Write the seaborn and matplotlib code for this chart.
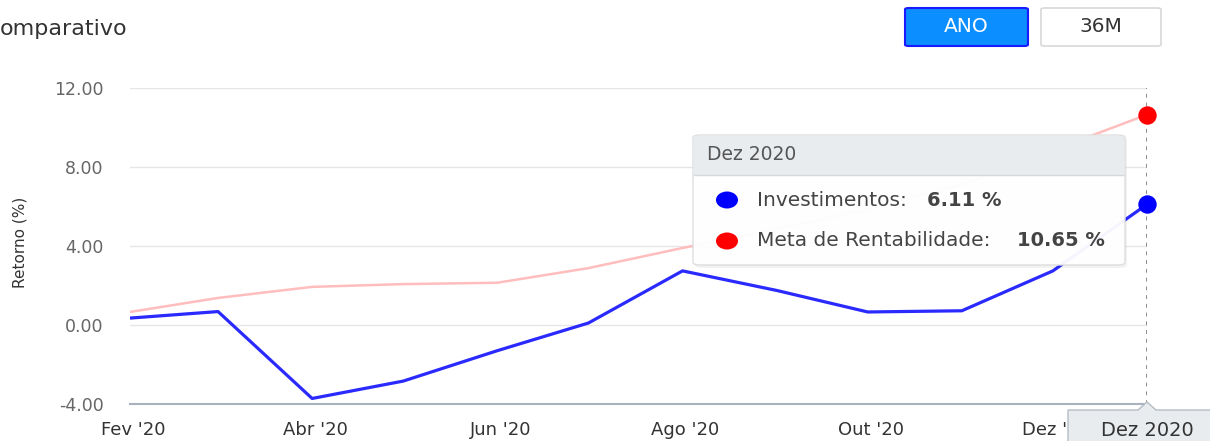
import numpy as np
import pandas as pd
import matplotlib
matplotlib.use("Agg")
import matplotlib.pyplot as plt
import seaborn as sns
from matplotlib.patches import FancyBboxPatch, Rectangle, Ellipse, Polygon

# DATA
meses = ["2020-01-31", "2020-02-29", "2020-03-31", "2020-04-30", "2020-05-31", "2020-06-30",
         "2020-07-31", "2020-08-31", "2020-09-30", "2020-10-31", "2020-11-30", "2020-12-31"]
investimentos = [0.35, 0.68, -3.72, -2.84, -1.30, 0.10, 2.74, 1.75, 0.66, 0.72, 2.74, 6.11]
meta = [0.66, 1.37, 1.93, 2.07, 2.14, 2.88, 3.90, 4.85, 5.85, 7.10, 8.85, 10.65]

tick_datas = ["2020-02-01", "2020-04-01", "2020-06-01", "2020-08-01", "2020-10-01", "2020-12-01"]
tick_labels = ["Fev '20", "Abr '20", "Jun '20", "Ago '20", "Out '20", "Dez '20"]
y_ticks = [-4, 0, 4, 8, 12]

df = pd.DataFrame({"data": pd.to_datetime(meses), "Investimentos": investimentos,
                   "Meta de Rentabilidade": meta})

W, H = 1210, 441

def fx(x):
    return x / W

def fy(y):
    return 1 - y / H

sns.set_style("white")
plt.rcParams["font.family"] = ["DejaVu Sans"]

fig = plt.figure(figsize=(W / 100, H / 100), dpi=100)
ax = fig.add_axes([fx(130), fy(404), fx(1147) - fx(130), fy(88) - fy(404)])

# LINES
sns.lineplot(data=df, x="data", y="Meta de Rentabilidade", color="#ffbdbd", linewidth=1.8, ax=ax)
sns.lineplot(data=df, x="data", y="Investimentos", color="#2a2aff", linewidth=2.3, ax=ax)

# hover markers on last point
ax.scatter([df["data"].iloc[-1]], [meta[-1]], s=150, color="#ff0000", zorder=5, clip_on=False)
ax.scatter([df["data"].iloc[-1]], [investimentos[-1]], s=150, color="#0000ff", zorder=5, clip_on=False)
ax.axvline(df["data"].iloc[-1], color="#8c8c8c", linestyle=(0, (2, 2.5)), linewidth=1.4, zorder=1)

# AXES
ax.set_xlim(df["data"].iloc[0], df["data"].iloc[-1])
ax.set_ylim(-4, 12)
ax.set_yticks(y_ticks)
ax.set_yticklabels([f"{v:.2f}" for v in y_ticks])
ax.set_xticks(pd.to_datetime(tick_datas))
ax.set_xticklabels(tick_labels)
ax.set_xlabel("")
ax.set_ylabel("")
ax.grid(axis="y", color="#e6e6e6", linewidth=1)
ax.grid(axis="x", visible=False)
for s in ["top", "right", "left"]:
    ax.spines[s].set_visible(False)
ax.spines["bottom"].set_color("#a9b3bd")
ax.spines["bottom"].set_linewidth(1.5)
ax.tick_params(axis="y", length=0, pad=19, labelsize=12.5, labelcolor="#666666")
ax.tick_params(axis="x", direction="out", length=5, width=1.2, color="#a9b3bd",
               pad=7, labelsize=13, labelcolor="#333333")

fig.text(fx(20), fy(242), "Retorno (%)", rotation=90, ha="center", va="center",
         fontsize=11, color="#333333", family=["Liberation Sans Narrow", "DejaVu Sans"])

# TITLE AND BUTTONS
fig.text(fx(0), fy(29), "omparativo", ha="left", va="center", fontsize=16, color="#333333")

btn1 = FancyBboxPatch((fx(905), fy(46)), fx(1028) - fx(905), fy(8) - fy(46),
                      boxstyle="round,pad=0,rounding_size=0.003", transform=fig.transFigure,
                      facecolor="#0b8eff", edgecolor="#1a1aff", linewidth=1.5)
fig.add_artist(btn1)
fig.text(fx(966), fy(27), "ANO", ha="center", va="center", fontsize=14.5, color="white")

btn2 = FancyBboxPatch((fx(1041), fy(46)), fx(1161) - fx(1041), fy(8) - fy(46),
                      boxstyle="round,pad=0,rounding_size=0.003", transform=fig.transFigure,
                      facecolor="white", edgecolor="#d8d8d8", linewidth=1.2)
fig.add_artist(btn2)
fig.text(fx(1101), fy(27), "36M", ha="center", va="center", fontsize=14.5, color="#333333")

# TOOLTIP
shadow = FancyBboxPatch((fx(695), fy(268)), fx(1127) - fx(695), fy(137) - fy(268),
                        boxstyle="round,pad=0,rounding_size=0.006", transform=fig.transFigure,
                        facecolor="#000000", edgecolor="none", alpha=0.05)
fig.add_artist(shadow)
tip = FancyBboxPatch((fx(693), fy(265)), fx(1125) - fx(693), fy(135) - fy(265),
                     boxstyle="round,pad=0,rounding_size=0.006", transform=fig.transFigure,
                     facecolor="white", edgecolor="#dddddd", linewidth=1, alpha=0.96)
fig.add_artist(tip)
head = Rectangle((fx(694), fy(175)), fx(1124) - fx(694), fy(136) - fy(175),
                 transform=fig.transFigure, facecolor="#e9ecef", edgecolor="none")
fig.add_artist(head)
fig.add_artist(plt.Line2D([fx(694), fx(1124)], [fy(175), fy(175)], transform=fig.transFigure,
                          color="#d5d9dd", linewidth=1))
fig.text(fx(707), fy(155), "Dez 2020", ha="left", va="center", fontsize=13.5, color="#555555")

for yy, cor in [(200, "#0000ff"), (241, "#ff0000")]:
    fig.add_artist(Ellipse((fx(727), fy(yy)), fx(22), 17 / H, transform=fig.transFigure,
                           facecolor=cor, edgecolor="none"))
fig.text(fx(757), fy(200), "Investimentos:", ha="left", va="center", fontsize=14.5, color="#444444")
fig.text(fx(927), fy(200), f"{investimentos[-1]:.2f} %", ha="left", va="center", fontsize=14,
         color="#444444", fontweight="bold")
fig.text(fx(757), fy(241), "Meta de Rentabilidade:", ha="left", va="center", fontsize=14.5, color="#444444")
fig.text(fx(1017), fy(241), f"{meta[-1]:.2f} %", ha="left", va="center", fontsize=14,
         color="#444444", fontweight="bold")

# CROSSHAIR LABEL
pts = [(1068, 445), (1068, 410), (1138, 410), (1147, 402), (1156, 410), (1215, 410), (1215, 445)]
lab = Polygon([(fx(x), fy(y)) for x, y in pts], closed=True, transform=fig.transFigure,
              facecolor="#e9ecef", edgecolor="#b5bdc5", linewidth=1)
fig.add_artist(lab)
fig.text(fx(1147), fy(430), "Dez 2020", ha="center", va="center", fontsize=14, color="#333333")

plt.savefig("out.png", dpi=100)
